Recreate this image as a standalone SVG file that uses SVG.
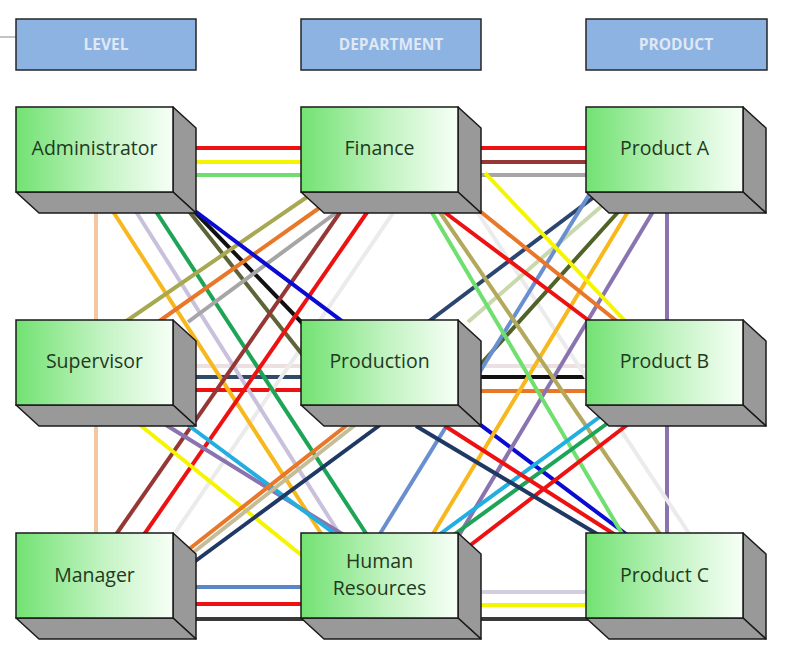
<svg xmlns="http://www.w3.org/2000/svg" width="787" height="650" viewBox="0 0 787 650">
<defs>
<linearGradient id="g" x1="0" y1="0" x2="1" y2="0">
<stop offset="0" stop-color="#72e272"/>
<stop offset="0.55" stop-color="#c2f3c2"/>
<stop offset="1" stop-color="#f7fff7"/>
</linearGradient>
<style>
.hdr rect{fill:#8db3e2;stroke:#262626;stroke-width:1.5}
.hdr text{font-family:"Open Sans","Liberation Sans",sans-serif;font-weight:bold;font-size:15.5px;fill:#dfe8f4;text-anchor:middle}
.node .f{fill:url(#g);stroke:#1a1a1a;stroke-width:1.5}
.node .s{fill:#999;stroke:#1a1a1a;stroke-width:1.5;stroke-linejoin:round}
.node text{font-family:"Open Sans","Liberation Sans",sans-serif;font-size:19.5px;fill:#1f3a1f;text-anchor:middle}
#connectors line{stroke-width:4;fill:none}
</style>
</defs>
<rect width="787" height="650" fill="#fff"/>
<line x1="0" y1="37" x2="16" y2="37" stroke="#888" stroke-width="1"/>
<g id="connectors">
<line x1="190" y1="148" x2="595" y2="148" stroke="#ee1111"/>
<line x1="190" y1="162" x2="310" y2="162" stroke="#f5f500"/>
<line x1="190" y1="175" x2="310" y2="175" stroke="#70dd70"/>
<line x1="475" y1="162" x2="595" y2="162" stroke="#953735"/>
<line x1="475" y1="175" x2="595" y2="175" stroke="#a6a6a6"/>
<line x1="190" y1="366" x2="595" y2="366" stroke="#ede0e2"/>
<line x1="190" y1="377" x2="310" y2="377" stroke="#2f4b68"/>
<line x1="190" y1="390" x2="310" y2="390" stroke="#ee1111"/>
<line x1="475" y1="377" x2="595" y2="377" stroke="#111"/>
<line x1="475" y1="391" x2="595" y2="391" stroke="#e8772a"/>
<line x1="190" y1="587" x2="310" y2="587" stroke="#5b86c8"/>
<line x1="190" y1="604" x2="310" y2="604" stroke="#ee1111"/>
<line x1="190" y1="619" x2="595" y2="619" stroke="#3a3a3a"/>
<line x1="475" y1="592" x2="595" y2="592" stroke="#d3cde0"/>
<line x1="475" y1="605" x2="595" y2="605" stroke="#f5f500"/>
<line x1="96" y1="200" x2="96" y2="545" stroke="#f4c7a2"/>
<line x1="667" y1="200" x2="667" y2="545" stroke="#8a74b0"/>
<line x1="175" y1="533" x2="393" y2="213" stroke="#ebebeb"/>
<line x1="478" y1="213" x2="690" y2="535" stroke="#ebebeb"/>
<line x1="112" y1="210" x2="324" y2="538" stroke="#f7b81e"/>
<line x1="135" y1="210" x2="342" y2="538" stroke="#c9c1dc"/>
<line x1="155" y1="210" x2="369" y2="538" stroke="#1ea457"/>
<line x1="188" y1="210" x2="305" y2="358" stroke="#5e6438"/>
<line x1="190" y1="207" x2="305" y2="326" stroke="#111"/>
<line x1="125" y1="322" x2="307" y2="197" stroke="#a8a852"/>
<line x1="158" y1="322" x2="322" y2="206" stroke="#e8772a"/>
<line x1="188" y1="322" x2="337" y2="212" stroke="#a6a6a6"/>
<line x1="115" y1="536" x2="341" y2="211" stroke="#953735"/>
<line x1="143" y1="536" x2="368" y2="211" stroke="#ee1111"/>
<line x1="140" y1="425" x2="305" y2="558" stroke="#f5f500"/>
<line x1="166" y1="425" x2="347" y2="537" stroke="#8a74b0"/>
<line x1="188" y1="425" x2="339" y2="537" stroke="#22aee0"/>
<line x1="188" y1="550" x2="347" y2="425" stroke="#e8772a"/>
<line x1="190" y1="555" x2="355" y2="425" stroke="#c4bd97"/>
<line x1="190" y1="565" x2="380" y2="425" stroke="#1f3864"/>
<line x1="195" y1="211" x2="630" y2="537" stroke="#0a0ad2"/>
<line x1="428" y1="322" x2="598" y2="194" stroke="#2a4570"/>
<line x1="468" y1="322" x2="604" y2="204" stroke="#c9d8ad"/>
<line x1="480" y1="365" x2="619" y2="211" stroke="#4f6228"/>
<line x1="378" y1="537" x2="592" y2="190" stroke="#6a8fd0"/>
<line x1="431" y1="537" x2="629" y2="210" stroke="#f7b81e"/>
<line x1="458" y1="537" x2="654" y2="210" stroke="#8a74b0"/>
<line x1="443" y1="211" x2="592" y2="323" stroke="#ee1111"/>
<line x1="476" y1="208" x2="619" y2="323" stroke="#e8772a"/>
<line x1="485" y1="173" x2="627" y2="323" stroke="#f5f500"/>
<line x1="439" y1="211" x2="662" y2="537" stroke="#b2a95c"/>
<line x1="431" y1="211" x2="624" y2="537" stroke="#6fe06f"/>
<line x1="436" y1="537" x2="605" y2="413" stroke="#22aee0"/>
<line x1="448" y1="539" x2="612" y2="420" stroke="#1ea457"/>
<line x1="468" y1="547" x2="627" y2="425" stroke="#ee1111"/>
<line x1="445" y1="426" x2="617" y2="536" stroke="#ee1111"/>
<line x1="416" y1="426" x2="602" y2="537" stroke="#1f3864"/>
</g>
<g id="hdr-level" class="hdr"><rect x="16" y="19" width="180" height="51"/><text x="106" y="50">LEVEL</text></g>
<g id="hdr-department" class="hdr"><rect x="301" y="19" width="180" height="51"/><text x="391" y="50">DEPARTMENT</text></g>
<g id="hdr-product" class="hdr"><rect x="586" y="19" width="181" height="51"/><text x="676" y="50">PRODUCT</text></g>
<g id="administrator" class="node">
<polygon class="s" points="173,107 196,128 196,213 173,192"/>
<polygon class="s" points="16,192 173,192 196,213 39,213"/>
<rect class="f" x="16" y="107" width="157" height="85"/>
<text x="94.5" y="154.5">Administrator</text>
</g>
<g id="finance" class="node">
<polygon class="s" points="458,107 481,128 481,213 458,192"/>
<polygon class="s" points="301,192 458,192 481,213 324,213"/>
<rect class="f" x="301" y="107" width="157" height="85"/>
<text x="379.5" y="154.5">Finance</text>
</g>
<g id="product-a" class="node">
<polygon class="s" points="743,107 766,128 766,213 743,192"/>
<polygon class="s" points="586,192 743,192 766,213 609,213"/>
<rect class="f" x="586" y="107" width="157" height="85"/>
<text x="664.5" y="154.5">Product A</text>
</g>
<g id="supervisor" class="node">
<polygon class="s" points="173,320 196,341 196,426 173,405"/>
<polygon class="s" points="16,405 173,405 196,426 39,426"/>
<rect class="f" x="16" y="320" width="157" height="85"/>
<text x="94.5" y="368">Supervisor</text>
</g>
<g id="production" class="node">
<polygon class="s" points="458,320 481,341 481,426 458,405"/>
<polygon class="s" points="301,405 458,405 481,426 324,426"/>
<rect class="f" x="301" y="320" width="157" height="85"/>
<text x="379.5" y="368">Production</text>
</g>
<g id="product-b" class="node">
<polygon class="s" points="743,320 766,341 766,426 743,405"/>
<polygon class="s" points="586,405 743,405 766,426 609,426"/>
<rect class="f" x="586" y="320" width="157" height="85"/>
<text x="664.5" y="368">Product B</text>
</g>
<g id="manager" class="node">
<polygon class="s" points="173,533 196,554 196,639 173,618"/>
<polygon class="s" points="16,618 173,618 196,639 39,639"/>
<rect class="f" x="16" y="533" width="157" height="85"/>
<text x="94.5" y="582">Manager</text>
</g>
<g id="human-resources" class="node">
<polygon class="s" points="458,533 481,554 481,639 458,618"/>
<polygon class="s" points="301,618 458,618 481,639 324,639"/>
<rect class="f" x="301" y="533" width="157" height="85"/>
<text x="379.5" y="568">Human</text>
<text x="379.5" y="595">Resources</text>
</g>
<g id="product-c" class="node">
<polygon class="s" points="743,533 766,554 766,639 743,618"/>
<polygon class="s" points="586,618 743,618 766,639 609,639"/>
<rect class="f" x="586" y="533" width="157" height="85"/>
<text x="664.5" y="582">Product C</text>
</g>
</svg>
